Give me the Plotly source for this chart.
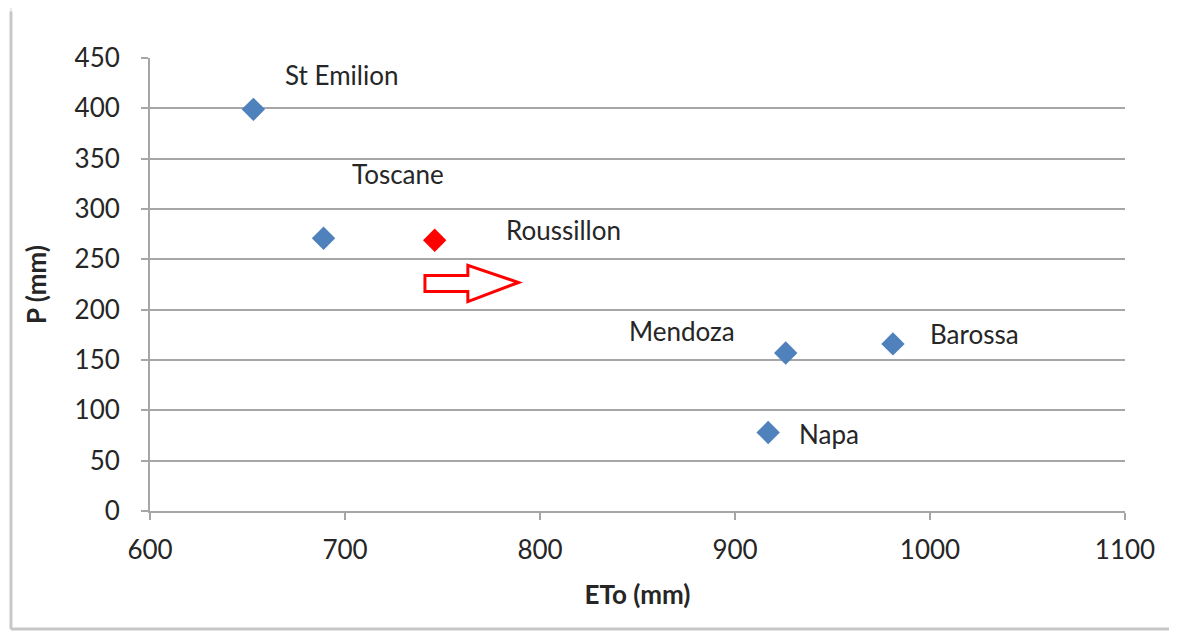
import plotly.graph_objects as go

regions = ["St Emilion", "Toscane", "Mendoza", "Barossa", "Napa"]
eto = [653, 689, 926, 981, 917]
precip = [399, 271, 157, 166, 78]

red_name = ["Roussillon"]
red_eto = [746]
red_p = [269]

# label positions (data coords)
label_text = ["St Emilion", "Toscane", "Roussillon", "Mendoza", "Barossa", "Napa"]
label_x = [698, 727, 812, 873, 1023, 948]
label_y = [433, 335, 279, 179, 176, 76]

# hollow arrow outline (data coords)
arrow_x = [741, 763, 763, 789, 763, 763, 741]
arrow_y = [234, 234, 244, 227, 208, 218, 218]

x_ticks = [600, 700, 800, 900, 1000, 1100]
y_ticks = list(range(0, 451, 50))

FONT = "Lato, Liberation Sans, Arial, sans-serif"
GRID = "#a6a6a6"
TXT = "#262626"
FS = 26

fig = go.Figure()
fig.add_trace(go.Scatter(x=eto, y=precip, mode="markers", text=regions,
                         marker=dict(symbol="diamond", size=18, color="#4F81BD"),
                         hoverinfo="text+x+y", showlegend=False))
fig.add_trace(go.Scatter(x=red_eto, y=red_p, mode="markers", text=red_name,
                         marker=dict(symbol="diamond", size=18, color="#FF0000"),
                         hoverinfo="text+x+y", showlegend=False))

for t, lx, ly in zip(label_text, label_x, label_y):
    fig.add_annotation(x=lx, y=ly, text=t, showarrow=False,
                       font=dict(family=FONT, size=FS, color=TXT))

path = "M " + " L ".join(f"{a},{b}" for a, b in zip(arrow_x, arrow_y)) + " Z"
fig.add_shape(type="path", path=path, xref="x", yref="y",
              line=dict(color="#FF0000", width=3), fillcolor="white")

# chart frame with shadow (paper coords relative to plot area)
fx0, fx1, fy0, fy1 = -0.1426, 1.0503, -0.2605, 1.1126
fig.add_shape(type="rect", xref="paper", yref="paper",
              x0=fx0, x1=fx1, y0=fy0, y1=fy1,
              line=dict(color="#e3e3e3", width=1.5), layer="below")
fig.add_shape(type="line", xref="paper", yref="paper",
              x0=fx1, x1=fx1, y0=fy0, y1=fy1 - 0.01,
              line=dict(color="#bdbdbd", width=3.5), layer="below")
fig.add_shape(type="line", xref="paper", yref="paper",
              x0=fx0, x1=fx0, y0=fy0, y1=fy1 - 0.01,
              line=dict(color="#c8c8c8", width=3), layer="below")
fig.add_shape(type="line", xref="paper", yref="paper",
              x0=fx0, x1=fx1, y0=fy0, y1=fy0,
              line=dict(color="#c8c8c8", width=3), layer="below")

fig.update_layout(
    width=1169, height=624,
    margin=dict(l=142, r=52, t=50, b=121),
    paper_bgcolor="white", plot_bgcolor="white",
    font=dict(family=FONT, size=FS, color=TXT),
    xaxis=dict(range=[600, 1100], tickvals=x_ticks, showgrid=False,
               showline=True, linecolor=GRID, linewidth=2,
               ticks="outside", tickcolor=GRID, ticklen=7, tickwidth=2,
               zeroline=False, ticklabelstandoff=8,
               title=dict(text="<b>ETo (mm)</b>", font=dict(size=FS), standoff=22)),
    yaxis=dict(range=[0, 450], tickvals=y_ticks, showgrid=True,
               gridcolor=GRID, gridwidth=2,
               showline=True, linecolor=GRID, linewidth=2,
               ticks="outside", tickcolor=GRID, ticklen=7, tickwidth=2,
               zeroline=False, ticklabelstandoff=16,
               title=dict(text="<b>P (mm)</b>", font=dict(size=FS), standoff=20)),
)

fig.write_html("out.html")
